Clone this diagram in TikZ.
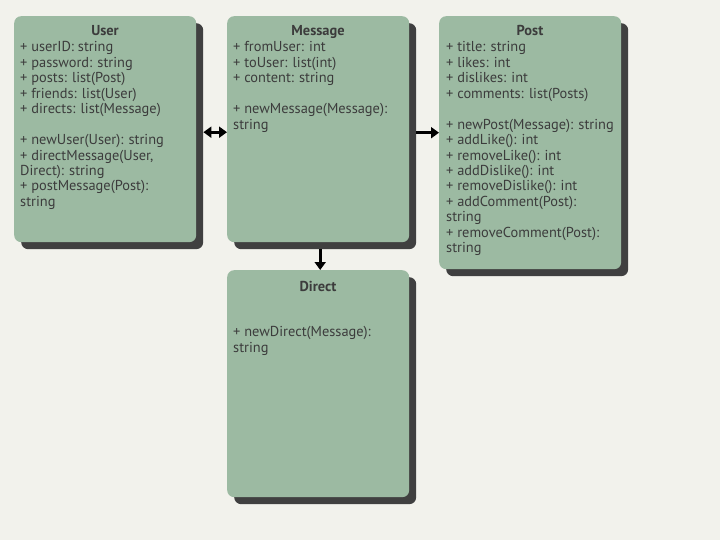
\documentclass[tikz,border=0pt]{standalone}
\usepackage{fontspec}
\setmainfont{PT Sans}
\usetikzlibrary{shadows,arrows.meta}
\definecolor{bgpaper}{HTML}{F2F2EC}
\definecolor{classfill}{HTML}{9CBAA2}
\definecolor{shadowgray}{HTML}{404040}
\definecolor{inkgray}{HTML}{3C3C3C}
\tikzset{
  classbox/.style={draw=none, fill=classfill, rounded corners=7pt, inner sep=0pt,
    minimum width=182pt, anchor=north west,
    drop shadow={shadow xshift=7pt, shadow yshift=-7pt, opacity=1, fill=shadowgray}},
  classtitle/.style={anchor=base, inner sep=0pt, text=inkgray, font=\fontsize{14.4}{15.45}\selectfont\bfseries},
  classbody/.style={anchor=north west, inner sep=0pt, align=left, text=inkgray,
    font=\fontsize{14.4}{15.45}\selectfont},
  umltip/.tip={Triangle[length=8pt,width=11pt]},
  assoc/.style={line width=2.8pt, -umltip},
  biassoc/.style={line width=2.8pt, umltip-umltip}
}
\begin{document}
\begin{tikzpicture}[x=1pt,y=-1pt]
\fill[bgpaper] (0,0) rectangle (720,540);
\useasboundingbox (0,0) rectangle (720,540);

% class boxes
\node[classbox, minimum height=226pt] (user) at (14,16) {};
\node[classbox, minimum height=226pt] (msg) at (227,16) {};
\node[classbox, minimum height=253pt] (post) at (439,16) {};
\node[classbox, minimum height=227pt] (direct) at (227,270) {};

% titles
\node[classtitle] (userT) at (105,36) {User};
\node[classtitle] (msgT) at (318,36) {Message};
\node[classtitle] (postT) at (530,36) {Post};
\node[classtitle] (directT) at (318,291) {Direct};

% members
\node[classbody] (userB) at (20,41.5) {+ userID: string\\+ password: string\\+ posts: list(Post)\\+ friends: list(User)\\+ directs: list(Message)\\[15.45pt]+ newUser(User): string\\+ directMessage(User,\\Direct): string\\+ postMessage(Post):\\string};
\node[classbody] (msgB) at (233,41.5) {+ fromUser: int\\+ toUser: list(int)\\+ content: string\\[15.45pt]+ newMessage(Message):\\string};
\node[classbody] (postB) at (446,41.5) {+ title: string\\+ likes: int\\+ dislikes: int\\+ comments: list(Posts)\\[15.45pt]+ newPost(Message): string\\+ addLike(): int\\+ removeLike(): int\\+ addDislike(): int\\+ removeDislike(): int\\+ addComment(Post):\\string\\+ removeComment(Post):\\string};
\node[classbody] (directB) at (233,326.5) {+ newDirect(Message):\\string};

% association end points (the outer edge of each shadow)
\coordinate (userR) at ([xshift=7pt,yshift=-3pt]user.east);
\coordinate (msgR) at ([xshift=7pt,yshift=-3.5pt]msg.east);
\coordinate (msgD) at ([xshift=2pt,yshift=-7pt]msg.south);

% associations
\draw[biassoc] (userR) -- (msg.west |- userR);
\draw[assoc] (msgR) -- (post.west |- msgR);
\draw[assoc] (msgD) -- (direct.north -| msgD);
\end{tikzpicture}
\end{document}
